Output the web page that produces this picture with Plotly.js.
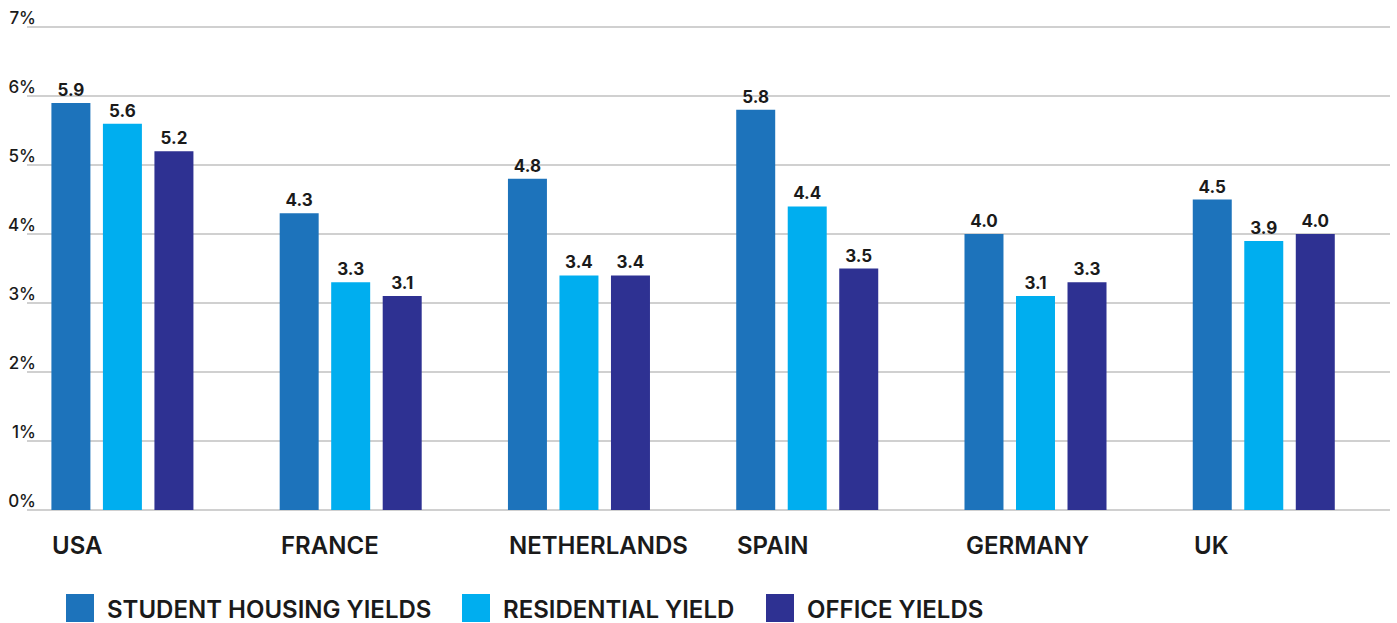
<!DOCTYPE html>
<html>
<head>
<meta charset="utf-8">
<script src="https://cdn.plot.ly/plotly-3.0.1.min.js"></script>
<style>
  html, body { margin: 0; padding: 0; background: #ffffff; }
  #chart { width: 1397px; height: 623px; }
</style>
</head>
<body>
<div id="chart"></div>
<script>
// Market yields by country (%)
const countries = ["USA", "FRANCE", "NETHERLANDS", "SPAIN", "GERMANY", "UK"];
const seriesNames = ["STUDENT HOUSING YIELDS", "RESIDENTIAL YIELD", "OFFICE YIELDS"];
const studentHousing = [5.9, 4.3, 4.8, 5.8, 4.0, 4.5];
const residential = [5.6, 3.3, 3.4, 4.4, 3.1, 3.9];
const office = [5.2, 3.1, 3.4, 3.5, 3.3, 4.0];
const seriesColors = ["#1d73bb", "#00aeef", "#2e3192"];

const W = 1397, H = 623;
const M = { l: 27, r: 7, t: 26, b: 113 };
const plotW = W - M.l - M.r;
const plotH = H - M.t - M.b;
// pixel -> paper helpers for the hand-built legend
const px2x = px => (px - M.l) / plotW;
const py2y = py => (H - M.b - py) / plotH;

const textColor = "#1a1a1a";
const font = "Inter, 'Open Sans', Arial, sans-serif";

const values = [studentHousing, residential, office];
const traces = values.map((vals, i) => ({
  type: "bar",
  name: seriesNames[i],
  x: countries,
  y: vals,
  marker: { color: seriesColors[i] },
  texttemplate: "%{y:.1f}",
  textposition: "outside",
  constraintext: "none",
  cliponaxis: false,
  textfont: { family: font, size: 17, weight: 700, color: textColor },
  hoverinfo: "skip",
  showlegend: false
}));

// Country labels, left-aligned with each bar group
const annotations = countries.map(c => ({
  x: c, xref: "x",
  y: 0, yref: "paper",
  xanchor: "left", yanchor: "top",
  xshift: -72, yshift: -19,
  showarrow: false,
  text: c,
  font: { family: font, size: 24, weight: 600, color: textColor }
}));

// Legend: square swatches followed by series names
const legendSwatchX = [66, 462, 766];
const shapes = [];
seriesNames.forEach((name, i) => {
  const x0 = legendSwatchX[i];
  shapes.push({
    type: "rect", xref: "paper", yref: "paper",
    x0: px2x(x0), x1: px2x(x0 + 28),
    y0: py2y(622), y1: py2y(594),
    fillcolor: seriesColors[i], line: { width: 0 }
  });
  annotations.push({
    xref: "paper", yref: "paper",
    x: px2x(x0 + 39), y: py2y(609),
    xanchor: "left", yanchor: "middle",
    showarrow: false,
    text: name,
    font: { family: font, size: 24, weight: 600, color: textColor }
  });
});

const layout = {
  width: W, height: H,
  margin: M,
  paper_bgcolor: "#ffffff",
  plot_bgcolor: "#ffffff",
  barmode: "group",
  bargap: 0.323,
  bargroupgap: 0.243,
  showlegend: false,
  xaxis: {
    type: "category",
    range: [-0.418, 5.553],
    showticklabels: false,
    showgrid: false,
    zeroline: false,
    showline: false,
    ticks: ""
  },
  yaxis: {
    range: [0, 7.015],
    dtick: 1,
    ticksuffix: "%",
    showgrid: true,
    gridcolor: "#d0d0d0",
    gridwidth: 1.5,
    zeroline: true,
    zerolinecolor: "#d0d0d0",
    zerolinewidth: 1.5,
    showline: false,
    ticks: "",
    ticklabelshift: -9,
    ticklabelstandoff: -10,
    tickfont: { family: font, size: 17, weight: 500, color: textColor }
  },
  shapes: shapes,
  annotations: annotations
};

Plotly.newPlot("chart", traces, layout, { staticPlot: true, displayModeBar: false });
</script>
</body>
</html>
